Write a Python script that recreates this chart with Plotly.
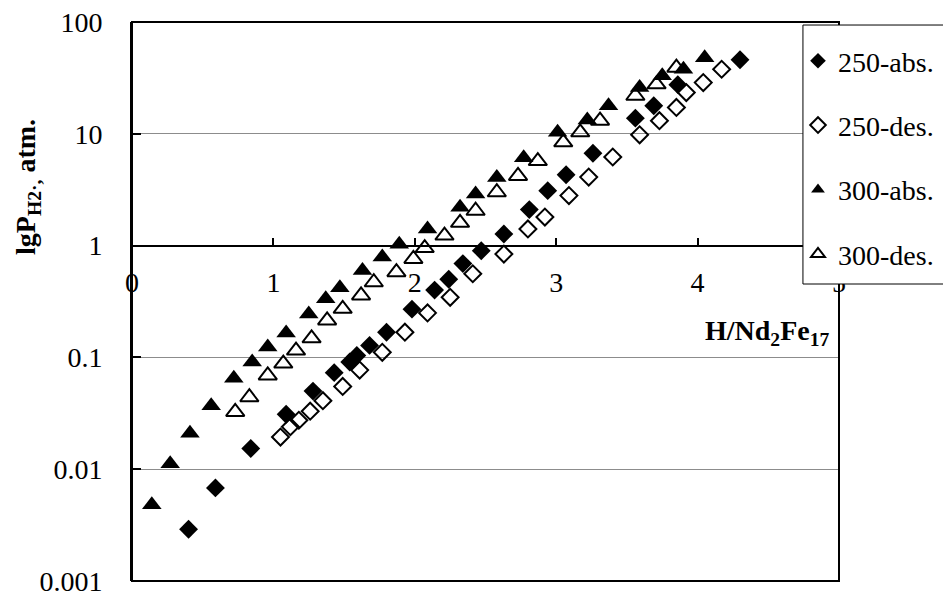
import plotly.graph_objects as go

# ---- data ----
abs250_x = [0.40, 0.59, 0.84, 1.09, 1.28, 1.43, 1.54, 1.59, 1.68, 1.80, 1.98, 2.14, 2.24, 2.34,
            2.47, 2.63, 2.81, 2.94, 3.07, 3.26, 3.56, 3.69, 3.86, 4.30]
abs250_y = [0.0029, 0.0068, 0.0153, 0.031, 0.050, 0.073, 0.091, 0.104, 0.128, 0.168, 0.27, 0.40,
            0.50, 0.69, 0.90, 1.27, 2.1, 3.1, 4.3, 6.7, 13.8, 17.8, 27.5, 46]

des250_x = [1.05, 1.12, 1.18, 1.26, 1.35, 1.49, 1.61, 1.77, 1.93, 2.09, 2.25, 2.41, 2.63, 2.80,
            2.92, 3.09, 3.23, 3.40, 3.59, 3.73, 3.85, 3.92, 4.04, 4.17]
des250_y = [0.0194, 0.024, 0.0274, 0.033, 0.041, 0.055, 0.077, 0.111, 0.168, 0.25, 0.345, 0.56,
            0.84, 1.41, 1.8, 2.8, 4.1, 6.2, 9.8, 13.1, 17.2, 23.4, 28.7, 37.8]

abs300_x = [0.14, 0.27, 0.41, 0.56, 0.72, 0.85, 0.96, 1.09, 1.25, 1.37, 1.47, 1.63, 1.77, 1.89,
            2.09, 2.32, 2.43, 2.58, 2.77, 3.01, 3.22, 3.37, 3.59, 3.75, 3.90, 4.05]
abs300_y = [0.0048, 0.0112, 0.021, 0.037, 0.065, 0.091, 0.124, 0.165, 0.245, 0.334, 0.42, 0.60,
            0.79, 1.03, 1.41, 2.2, 2.9, 4.07, 6.1, 10.3, 13.3, 17.8, 25.9, 33, 37.8, 48]

des300_x = [0.73, 0.83, 0.96, 1.07, 1.16, 1.27, 1.38, 1.49, 1.62, 1.71, 1.87, 1.99, 2.07, 2.21,
            2.32, 2.43, 2.58, 2.73, 2.87, 3.05, 3.17, 3.31, 3.56, 3.71, 3.85]
des300_y = [0.0325, 0.044, 0.069, 0.088, 0.115, 0.148, 0.214, 0.272, 0.358, 0.47, 0.578, 0.76,
            0.95, 1.23, 1.6, 2.05, 3.0, 4.2, 5.7, 8.4, 10.3, 13.1, 21.9, 27.7, 39]

series_names = ["250-abs.", "250-des.", "300-abs.", "300-des."]
x_ticks = [0, 1, 2, 3, 4, 5]
y_ticks = [0.001, 0.01, 0.1, 1, 10, 100]
y_tick_labels = ["0.001", "0.01", "0.1", "1", "10", "100"]

FONT = "Liberation Serif"

fig = go.Figure()
specs = [
    (abs250_x, abs250_y, "diamond", 14.5),
    (des250_x, des250_y, "diamond-open", 13),
    (abs300_x, abs300_y, "triangle-up", 17),
    (des300_x, des300_y, "triangle-up-open", 16),
]
for i, (xs, ys, sym, sz) in enumerate(specs):
    fig.add_trace(go.Scatter(
        x=xs, y=ys, mode="markers", name=series_names[i], legendgroup=f"g{i}",
        marker=dict(symbol=sym, size=sz, color="black",
                    line=dict(color="black", width=2 if "open" in sym else 0)),
        cliponaxis=False,
    ))

# page body has an 8px default margin, so the figure is drawn 8px smaller
fig.update_layout(
    width=943, height=589,
    margin=dict(l=124, r=112, t=14, b=16, autoexpand=False),
    paper_bgcolor="white", plot_bgcolor="white",
    font=dict(family=FONT, size=28, color="black"),
    showlegend=True,
    legend=dict(
        x=0.942, y=0.975, xanchor="left", yanchor="top",
        bgcolor="rgba(0,0,0,0)", borderwidth=0,
        font=dict(family=FONT, size=28, color="black"),
        itemsizing="constant", tracegroupgap=25,
    ),
    xaxis=dict(
        range=[0, 5], anchor="free", position=0.6,
        tickvals=x_ticks, ticktext=[str(v) for v in x_ticks],
        ticks="inside", ticklen=7, tickwidth=2, tickcolor="black",
        showline=True, linewidth=2, linecolor="black",
        showgrid=False, zeroline=False, ticklabelstandoff=12,
        ticklabeloverflow="allow",
    ),
    yaxis=dict(
        type="log", range=[-3, 2],
        tickvals=y_ticks, ticktext=y_tick_labels,
        ticks="inside", ticklen=9, tickwidth=2, tickcolor="black",
        showline=True, linewidth=2, linecolor="black",
        showgrid=True, gridcolor="#8c8c8c", gridwidth=1, zeroline=False,
        ticklabelstandoff=22, ticklabeloverflow="allow",
    ),
    shapes=[
        dict(type="rect", xref="paper", yref="paper", x0=0, x1=1, y0=0, y1=1,
             line=dict(color="black", width=2), fillcolor="rgba(0,0,0,0)", layer="above"),
        dict(type="rect", xref="paper", yref="paper", x0=0.949, x1=1.2, y0=0.5313, y1=0.9946,
             line=dict(color="black", width=1), fillcolor="white", layer="above"),
    ],
    annotations=[
        dict(text="<b>H/Nd<sub>2</sub>Fe<sub>17</sub></b>", xref="x", yref="paper",
             x=4.04, y=0.445, xanchor="left", yanchor="middle", showarrow=False,
             font=dict(family=FONT, size=28, color="black")),
        dict(text="<b>lgP<sub>H2·,</sub> atm.</b>", xref="paper", yref="paper",
             x=-0.147, y=0.705, xanchor="center", yanchor="middle", textangle=-90,
             showarrow=False, font=dict(family=FONT, size=28, color="black")),
    ],
)

fig.write_html("out.html")
